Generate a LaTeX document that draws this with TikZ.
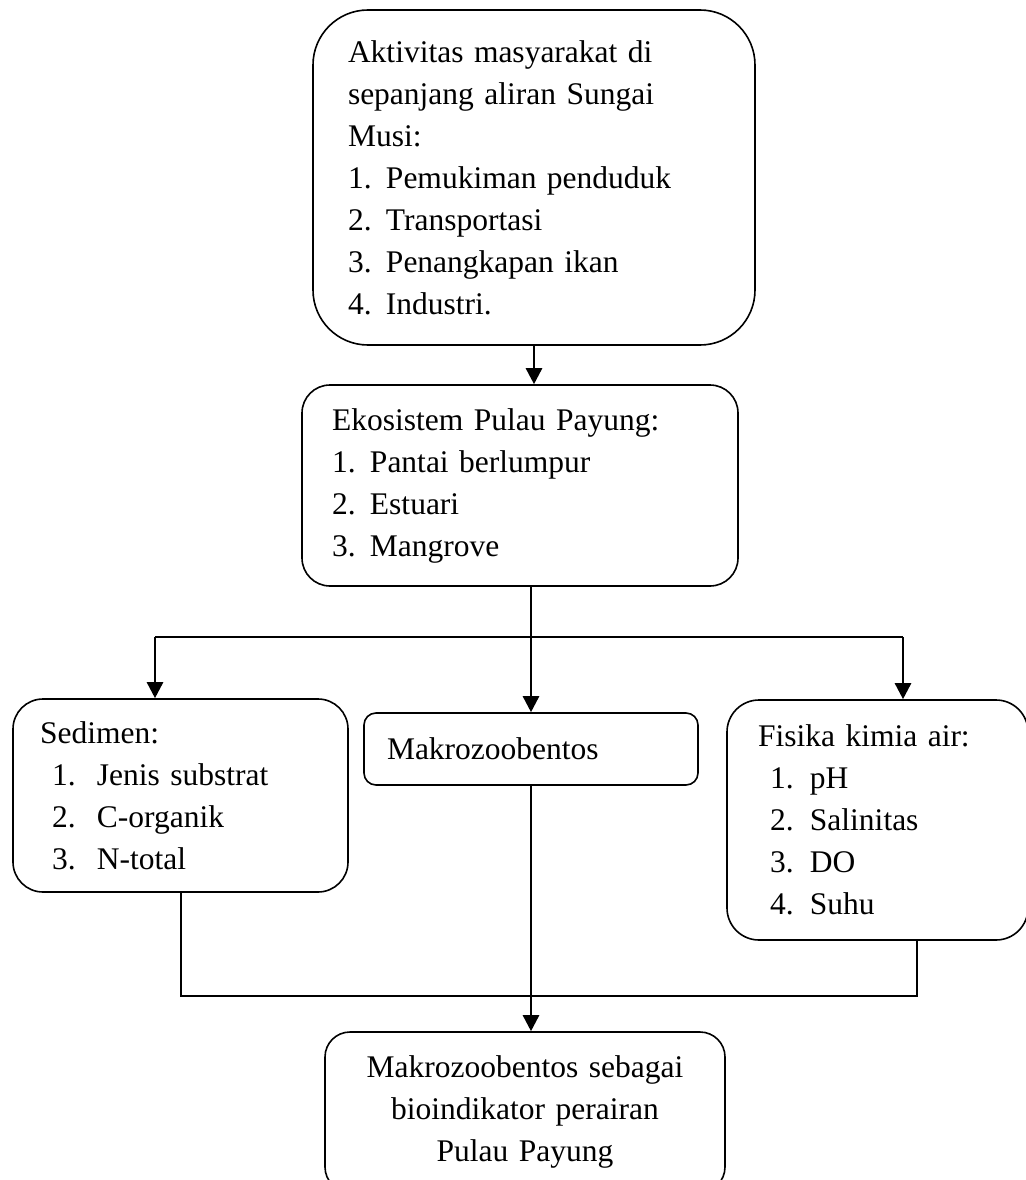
\documentclass[tikz,border=0pt]{standalone}
\usepackage{fontspec}
\setmainfont{Liberation Serif}
\usetikzlibrary{arrows.meta, positioning, calc}

\newcommand{\nomorbutir}[3]{\hspace*{#1}\makebox[#2][l]{#3}}

\tikzset{
  kotak/.style={draw, line width=1.6pt, rounded corners=#1, align=left, inner ysep=0pt,
    font=\fontsize{31.5pt}{42pt}\selectfont},
  kotak/.default=28pt,
  garis/.style={line width=1.7pt},
  panah/.style={line width=2.6pt, -{Triangle[width=16pt,length=16pt]}},
}

\begin{document}
\begin{tikzpicture}[x=1pt, y=-1pt]
    \useasboundingbox (0,0) rectangle (1025,1180);

    % Boxes
    \node[kotak=55pt, text width=372pt, inner xsep=35pt, minimum width=442pt, minimum height=335pt] (aktivitas) at (534,177.5)
        {Aktivitas masyarakat di\\ sepanjang aliran Sungai\\ Musi:\\
         \nomorbutir{0pt}{38pt}{1.}Pemukiman penduduk\\
         \nomorbutir{0pt}{38pt}{2.}Transportasi\\
         \nomorbutir{0pt}{38pt}{3.}Penangkapan ikan\\
         \nomorbutir{0pt}{38pt}{4.}Industri.};
    \node[kotak, text width=376pt, inner xsep=30pt, minimum width=436pt, minimum height=201pt] (ekosistem) at (520,485.5)
        {Ekosistem Pulau Payung:\\
         \nomorbutir{0pt}{38pt}{1.}Pantai berlumpur\\
         \nomorbutir{0pt}{38pt}{2.}Estuari\\
         \nomorbutir{0pt}{38pt}{3.}Mangrove};
    \node[kotak=30pt, text width=281pt, inner xsep=27pt, minimum width=335pt, minimum height=193pt] (sedimen) at (180.5,795.5)
        {Sedimen:\\
         \nomorbutir{12pt}{45pt}{1.}Jenis substrat\\
         \nomorbutir{12pt}{45pt}{2.}C-organik\\
         \nomorbutir{12pt}{45pt}{3.}N-total};
    \node[kotak=12pt, text width=288pt, inner xsep=23pt, minimum width=334pt, minimum height=72pt] (makro) at (531,749)
        {Makrozoobentos};
    \node[kotak=32pt, text width=239pt, inner xsep=31pt, minimum width=301pt, minimum height=240pt] (fisika) at (877.5,820)
        {Fisika kimia air:\\
         \nomorbutir{12pt}{40pt}{1.}pH\\
         \nomorbutir{12pt}{40pt}{2.}Salinitas\\
         \nomorbutir{12pt}{40pt}{3.}DO\\
         \nomorbutir{12pt}{40pt}{4.}Suhu};
    \node[kotak=25pt, align=center, text width=360pt, inner xsep=20pt, minimum width=400pt, minimum height=160pt] (hasil) at (525,1112)
        {Makrozoobentos sebagai\\ bioindikator perairan\\ Pulau Payung};

    % Branch points
    \coordinate (cabangkiri) at (155,637);
    \coordinate (cabangkanan) at (903,637);
    \coordinate (gabungkiri) at (181,996);
    \coordinate (gabungkanan) at (917,996);

    % Connectors
    \draw[panah] (aktivitas.south) -- (aktivitas.south |- ekosistem.north);
    \draw[garis] (ekosistem.south -| makro.north) -- (makro.north |- cabangkiri);
    \draw[garis] (cabangkiri) -- (cabangkanan);
    \draw[panah] (cabangkiri) -- (cabangkiri |- sedimen.north);
    \draw[panah] (makro.north |- cabangkiri) -- (makro.north);
    \draw[panah] (cabangkanan) -- (cabangkanan |- fisika.north);
    \draw[garis] (sedimen.south -| gabungkiri) -- (gabungkiri) -- (gabungkanan) -- (fisika.south -| gabungkanan);
    \draw[panah] (makro.south) -- (makro.south |- hasil.north);
\end{tikzpicture}
\end{document}
